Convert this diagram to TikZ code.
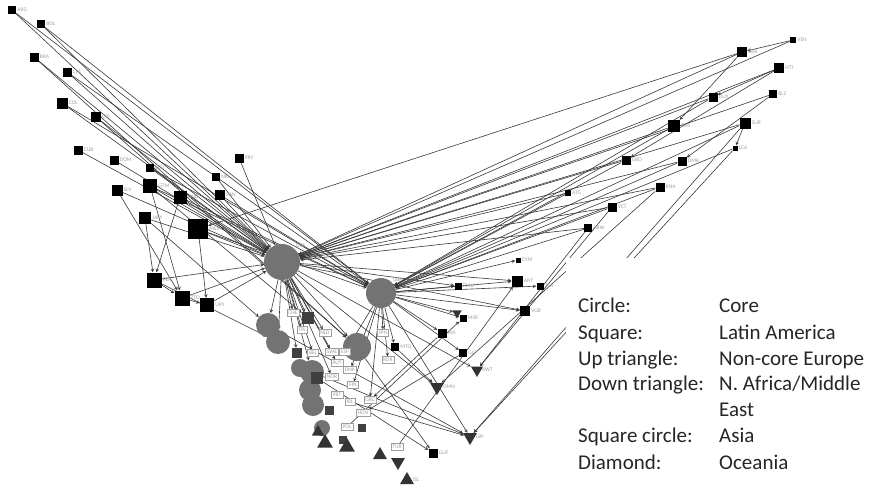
\documentclass[tikz,border=0pt]{standalone}
\usepackage{fontspec}
\setmainfont{Carlito}
\usetikzlibrary{arrows.meta,shapes.geometric}
\definecolor{mygray}{gray}{0.45}
\definecolor{linegray}{gray}{0.22}
\definecolor{lblgray}{gray}{0.62}
\pgfdeclarelayer{bg}
\pgfsetlayers{bg,main}
\tikzset{
  sq/.style={fill=black, inner sep=0pt, minimum size=#1},
  core/.style={circle, fill=mygray, inner sep=0pt, minimum size=#1},
  up/.style={regular polygon, regular polygon sides=3, fill=black!80, inner sep=0pt, minimum size=#1},
  down/.style={regular polygon, regular polygon sides=3, shape border rotate=180, fill=black!80, inner sep=0pt, minimum size=#1},
  tag/.style={draw=lblgray, fill=white, inner sep=1.6pt, font=\fontsize{5.5}{5.5}\selectfont, text=lblgray},
  lbl/.style={font=\fontsize{5.5}{5.5}\selectfont, text=lblgray, inner sep=1pt},
  tie/.style={linegray, line width=0.6pt, -stealth},
  keytext/.style={font=\fontsize{21}{23}\selectfont, anchor=base west, inner sep=0pt, text=black!85},
}

\begin{document}
\begin{tikzpicture}[x=1pt,y=-1pt]
\useasboundingbox (0,0) rectangle (873,491);

% Latin America, left arm
\node[sq=8pt, label={[lbl]right:ARG}] (l1) at (12,10) {};
\node[sq=8pt, label={[lbl]right:BOL}] (l2) at (41,24) {};
\node[sq=9pt, label={[lbl]right:BRA}] (l3) at (34,57) {};
\node[sq=9pt, label={[lbl]right:CHL}] (l4) at (67,72) {};
\node[sq=11pt, label={[lbl]right:COL}] (l5) at (62,103) {};
\node[sq=10pt, label={[lbl]right:CRI}] (l6) at (96,117) {};
\node[sq=9pt, label={[lbl]right:CUB}] (l7) at (78,150) {};
\node[sq=9pt, label={[lbl]right:DOM}] (l8) at (114,160) {};
\node[sq=8pt, label={[lbl]right:ECU}] (l9) at (150,168) {};
\node[sq=11pt, label={[lbl]right:SLV}] (l10) at (117,190) {};
\node[sq=14pt, label={[lbl]right:GTM}] (l11) at (150,186) {};
\node[sq=13pt, label={[lbl]right:HND}] (l12) at (180,197) {};
\node[sq=12pt, label={[lbl]right:JAM}] (l13) at (145,218) {};
\node[sq=20pt, label={[lbl]right:MEX}] (l14) at (198,229) {};
\node[sq=8pt, label={[lbl]right:NIC}] (l15) at (216,177) {};
\node[sq=10pt, label={[lbl]right:PAN}] (l16) at (220,195) {};
\node[sq=9pt, label={[lbl]right:PRY}] (l17) at (239,158) {};
\node[sq=15pt, label={[lbl]right:PER}] (l18) at (154,280) {};
\node[sq=15pt, label={[lbl]right:TTO}] (l19) at (182,298) {};
\node[sq=14pt, label={[lbl]right:URY}] (l20) at (207,305) {};

% Latin America, right arm
\node[sq=6pt, label={[lbl]right:VEN}] (r1) at (793,40) {};
\node[sq=10pt, label={[lbl]right:BRB}] (r2) at (742,52) {};
\node[sq=10pt, label={[lbl]right:HTI}] (r3) at (779,68) {};
\node[sq=8pt, label={[lbl]right:BLZ}] (r4) at (773,94) {};
\node[sq=9pt, label={[lbl]right:GUY}] (r5) at (713,97) {};
\node[sq=11pt, label={[lbl]right:SUR}] (r6) at (745,123) {};
\node[sq=12pt, label={[lbl]right:BHS}] (r7) at (674,126) {};
\node[sq=5pt, label={[lbl]right:LCA}] (r8) at (735,148) {};
\node[sq=9pt, label={[lbl]right:GRD}] (r9) at (626,160) {};
\node[sq=9pt, label={[lbl]right:DMA}] (r10) at (682,161) {};
\node[sq=9pt, label={[lbl]right:KNA}] (r11) at (660,187) {};
\node[sq=6pt, label={[lbl]right:ATG}] (r12) at (568,193) {};
\node[sq=9pt, label={[lbl]right:VCT}] (r13) at (612,207) {};
\node[sq=8pt, label={[lbl]right:ABW}] (r14) at (588,228) {};
\node[sq=5pt, label={[lbl]right:CYM}] (r15) at (518,260) {};
\node[sq=11pt, label={[lbl]right:ANT}] (r16) at (517,281) {};
\node[sq=7pt, label={[lbl]right:BMU}] (r17) at (458,286) {};
\node[sq=7pt, label={[lbl]right:TCA}] (r18) at (540,286) {};
\node[sq=10pt, label={[lbl]right:VGB}] (r19) at (525,311) {};
\node[sq=7pt, label={[lbl]right:MSR}] (r20) at (463,318) {};
\node[sq=9pt, label={[lbl]right:AIA}] (r21) at (442,333) {};
\node[sq=8pt, label={[lbl]right:GLP}] (r22) at (463,353) {};
\node[sq=8pt, label={[lbl]right:MTQ}] (r23) at (395,347) {};
\node[sq=9pt, label={[lbl]right:GUF}] (r24) at (433,453) {};

% core
\node[core=36pt, label={[lbl]above right:USA}] (c1) at (282,262) {};
\node[core=30pt, label={[lbl]above right:GBR}] (c2) at (381,293) {};
\node[core=24pt] (c3) at (268,325) {};
\node[core=24pt] (c4) at (278,342) {};
\node[core=28pt] (c5) at (357,347) {};
\node[core=24pt] (c6) at (312,372) {};
\node[core=22pt] (c7) at (310,390) {};
\node[core=22pt] (c8) at (313,405) {};
\node[core=16pt] (c9) at (322,428) {};
\node[core=18pt] (c10) at (300,368) {};

% cluster squares
\node[sq=12pt, fill=black!75] (k1) at (308,318) {};
\node[sq=10pt, fill=black!75] (k2) at (297,353) {};
\node[sq=12pt, fill=black!75] (k3) at (317,378) {};
\node[sq=9pt, fill=black!75] (k4) at (329,410) {};
\node[sq=8pt, fill=black!75] (k5) at (343,440) {};
\node[sq=8pt, fill=black!75] (k6) at (362,428) {};

% triangles
\node[up=18pt] (u1) at (325,443) {};
\node[up=18pt] (u2) at (347,447) {};
\node[up=16pt] (u3) at (380,455) {};
\node[up=16pt, label={[lbl]right:ISL}] (u4) at (407,480) {};
\node[up=14pt] (u5) at (318,432) {};
\node[down=16pt] (d1) at (398,462) {};
\node[down=16pt, label={[lbl]right:OMN}] (d2) at (437,387) {};
\node[down=14pt, label={[lbl]right:KWT}] (d3) at (477,370) {};
\node[down=16pt, label={[lbl]right:LBY}] (d4) at (470,437) {};
\node[down=11pt] (d5) at (457,313) {};

% tags in the cluster
\node[tag] (t1) at (293,313) {CHE};
\node[tag] (t2) at (302,330) {ITA};
\node[tag] (t3) at (325,333) {NLD};
\node[tag] (t4) at (313,353) {BEL};
\node[tag] (t5) at (332,352) {SWE};
\node[tag] (t6) at (345,352) {ESP};
\node[tag] (t7) at (337,363) {AUT};
\node[tag] (t8) at (350,370) {DNK};
\node[tag] (t9) at (332,377) {NOR};
\node[tag] (t10) at (353,385) {FIN};
\node[tag] (t11) at (337,395) {PRT};
\node[tag] (t12) at (350,402) {IRL};
\node[tag] (t13) at (370,400) {GRC};
\node[tag] (t14) at (347,427) {POL};
\node[tag] (t15) at (383,333) {JPN};
\node[tag] (t16) at (388,360) {KOR};
\node[tag] (t17) at (363,413) {HUN};
\node[tag] (t18) at (397,447) {TUR};

\begin{pgfonlayer}{bg}
% left arm
\foreach \a in {l1,l2,l3,l4,l5,l6,l7,l8,l9,l10,l11,l12,l13,l14,l15,l16,l17,l18,l19,l20}
  \draw[tie] (\a) -- (c1);
\foreach \a/\b in {l1/c2,l2/c2,l3/c5,l4/c2,l5/c2,l6/c5,l9/c2,l11/c2,l12/c2,l14/c2,l16/c2,
  l13/l18,l10/l19,l11/l19,l12/l18,l14/l20,l18/l19,l19/l20,l13/c3,l18/c4,l11/k1}
  \draw[tie] (\a) -- (\b);
\draw[tie] (r2) -- (l14);
% right arm
\foreach \a in {r1,r2,r3,r4,r5,r6,r7,r9,r10,r11,r12,r13,r14}
  \draw[tie] (\a) -- (c1);
\foreach \a/\b in {r5/c2,r7/c2,r9/c2,r11/c2,r13/c2,r14/c2,r1/r2,r2/r7,r3/r5,r6/r8,r4/r10,
  r10/c2,r12/c2,r8/c2,r6/c2,r3/r9}
  \draw[tie] (\a) -- (\b);
\foreach \b in {r15,r16,r17,r18,r19,r20,r21,r22,r23,d5}
  \draw[tie] (c2) -- (\b);
\foreach \b in {r16,r17,r19,c3,c4,c5,c6,t1,t2,t3,t4,t5,t7,t9,k1,k2,d2,d3}
  \draw[tie] (c1) -- (\b);
\foreach \a/\b in {c2/t6,c2/t8,c2/t10,c2/t13,c2/t15,c2/t16,c2/d4,c5/r24,c3/d4,t12/d4,
  r6/d4,r8/d4,r14/d3,r11/d2,r13/d3,r21/t13,r22/t17,k3/r24,c6/d4,t18/r16,r23/d2,t14/r20}
  \draw[tie] (\a) -- (\b);
\end{pgfonlayer}

% legend
\fill[white] (566,258) rectangle (873,491);
\node[keytext] (key1) at (578,312) {Circle:};
\node[keytext] (val1) at (719,312) {Core};
\node[keytext] (key2) at (578,339) {Square:};
\node[keytext] (val2) at (719,339) {Latin America};
\node[keytext] (key3) at (578,365) {Up triangle:};
\node[keytext] (val3) at (719,365) {Non-core Europe};
\node[keytext] (key4) at (578,390) {Down triangle:};
\node[keytext] (val4) at (719,390) {N. Africa/Middle};
\node[keytext] (val4b) at (719,416) {East};
\node[keytext] (key5) at (578,442) {Square circle:};
\node[keytext] (val5) at (719,442) {Asia};
\node[keytext] (key6) at (578,469) {Diamond:};
\node[keytext] (val6) at (719,469) {Oceania};

\end{tikzpicture}
\end{document}
